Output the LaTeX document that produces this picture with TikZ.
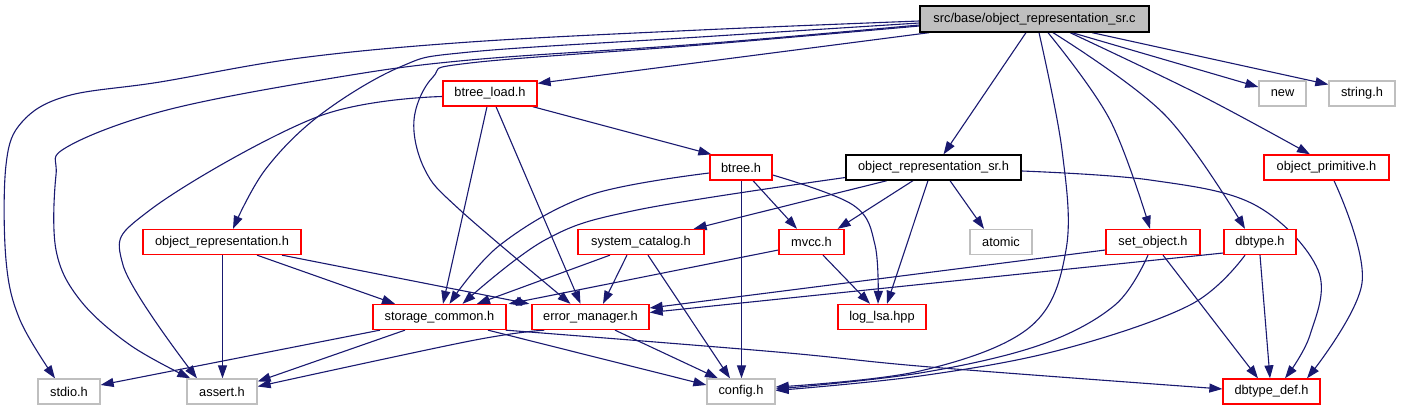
\documentclass[tikz,border=0pt]{standalone}
\usepackage{fontspec}
\setmainfont{Liberation Sans}
\usetikzlibrary{arrows.meta}
\definecolor{edgecol}{RGB}{25,25,112}
\definecolor{greyb}{RGB}{191,191,191}
\definecolor{redb}{RGB}{255,0,0}
\pgfdeclarelayer{bg}
\pgfsetlayers{bg,main}
\begin{document}
\begin{tikzpicture}[x=1pt,y=-1pt,
  box/.style={draw, line width=1.3pt, minimum height=25pt, inner sep=0pt, font=\fontsize{12.8}{15}\selectfont, fill=white},
  redbox/.style={box, draw=redb},
  greybox/.style={box, draw=greyb},
  blackbox/.style={box, draw=black},
  edge/.style={draw=edgecol, line width=1.1pt, -{Triangle[length=13pt,width=9pt]}},
  sm/.style={smooth, tension=0.6}]
\useasboundingbox (0,0) rectangle (1401,411);

% nodes
\node[blackbox, fill=greyb, minimum width=229pt, minimum height=26pt] (root) at (1034.5,19) {src/base/object\_representation\_sr.c};
\node[redbox, minimum width=94pt] (btreeload) at (490,93.5) {btree\_load.h};
\node[greybox, minimum width=47pt] (new) at (1282.5,93.5) {new};
\node[greybox, minimum width=66pt] (string) at (1362,93.5) {string.h};
\node[redbox, minimum width=62pt] (btree) at (741,167.5) {btree.h};
\node[blackbox, minimum width=175pt] (ors) at (933.5,167.5) {object\_representation\_sr.h};
\node[redbox, minimum width=125pt] (objprim) at (1326.5,167.5) {object\_primitive.h};
\node[redbox, minimum width=158pt] (objrep) at (222,242) {object\_representation.h};
\node[redbox, minimum width=126pt] (syscat) at (641,242) {system\_catalog.h};
\node[redbox, minimum width=65pt] (mvcc) at (811.5,242) {mvcc.h};
\node[greybox, minimum width=62pt] (atomic) at (1001,242) {atomic};
\node[redbox, minimum width=94pt] (setobj) at (1153,242) {set\_object.h};
\node[redbox, minimum width=72pt] (dbtype) at (1260,242) {dbtype.h};
\node[redbox, minimum width=133pt] (storage) at (439.5,317) {storage\_common.h};
\node[redbox, minimum width=117pt] (errmgr) at (590.5,317) {error\_manager.h};
\node[redbox, minimum width=88pt] (loglsa) at (882,317) {log\_lsa.hpp};
\node[greybox, minimum width=62pt] (stdio) at (69,391.5) {stdio.h};
\node[greybox, minimum width=70pt] (assert) at (222,391.5) {assert.h};
\node[greybox, minimum width=68pt] (config) at (741,391.5) {config.h};
\node[redbox, minimum width=97pt] (dbtypedef) at (1271.5,391.5) {dbtype\_def.h};

\begin{pgfonlayer}{bg}
% root edges
\draw[edge] plot[sm] coordinates {([yshift=-2pt]root.west) (700,30) (470,42) (300,58) (160,82) (67,96) (22,122) (6,165) (6,260) (20,320) ([xshift=-14pt]stdio.north)};
\draw[edge] plot[sm] coordinates {([yshift=-4pt]root.west) (700,37) (470,52) (400,67) (320,115) (265,170) ([xshift=11pt]objrep.north)};
\draw[edge] plot[sm] coordinates {([yshift=-6pt]root.west) (700,44) (470,60) (333,78) (167,110) (67,147) (56,175) (56,250) (80,300) (130,345) ([xshift=4pt]assert.north west)};
\draw[edge] plot[sm] coordinates {([yshift=-7pt]root.west) (700,45) (470,63) (433,77) (414,120) (425,170) (460,210) ([xshift=-20pt]errmgr.north)};
\draw[edge] ([xshift=10pt]root.south west) -- ([yshift=-3pt]btreeload.north east);
\draw[edge] ([xshift=-8.5pt]root.south) -- ([xshift=10pt]ors.north);
\draw[edge] plot[sm] coordinates {([xshift=4.5pt]root.south) (1062,150) (1066,250) (1030,327) (920,371) ([yshift=4.5pt]config.east)};
\draw[edge] plot[sm] coordinates {([xshift=13.5pt]root.south) (1110,120) ([xshift=-3pt]setobj.north)};
\draw[edge] plot[sm] coordinates {([xshift=18.5pt]root.south) (1165,115) ([xshift=-15pt]dbtype.north)};
\draw[edge] plot[sm] coordinates {([xshift=35.5pt]root.south) (1200,95) ([xshift=-16.5pt]objprim.north)};
\draw[edge] ([xshift=37.5pt]root.south) -- ([yshift=6.5pt]new.west);
\draw[edge] ([xshift=57.5pt]root.south) -- ([yshift=9pt]string.west);
% btree_load
\draw[edge] plot[sm] coordinates {([yshift=-3pt]btreeload.west) (317,117) (150,210) (123,265) ([xshift=-25pt]assert.north)};
\draw[edge] ([xshift=-3pt]btreeload.south) -- ([xshift=3.5pt]storage.north);
\draw[edge] ([xshift=6pt]btreeload.south) -- ([xshift=-10pt]errmgr.north);
\draw[edge] ([xshift=-5pt]btreeload.south east) -- ([xshift=2pt]btree.north west);
% btree
\draw[edge] plot[sm] coordinates {([yshift=-5.5pt]btree.west) (590,195) (500,245) ([xshift=10pt]storage.north)};
\draw[edge] ([xshift=0.5pt]btree.south) -- ([xshift=0.5pt]config.north);
\draw[edge] ([xshift=12pt]btree.south) -- ([xshift=-14.5pt]mvcc.north);
\draw[edge] plot[sm] coordinates {([yshift=-7.5pt]btree.east) (853,205) (875,245) ([xshift=-4pt]loglsa.north)};
% object_representation_sr.h
\draw[edge] plot[sm] coordinates {([yshift=-10pt]ors.west) (637,210) (545,240) ([xshift=23pt]storage.north)};
\draw[edge] ([xshift=-46.5pt]ors.south) -- ([xshift=-11pt]syscat.north east);
\draw[edge] ([xshift=-20.5pt]ors.south) -- ([xshift=-7pt]mvcc.north east);
\draw[edge] ([xshift=-5.5pt]ors.south) -- ([xshift=5pt]loglsa.north);
\draw[edge] ([xshift=16.5pt]ors.south) -- ([xshift=-17pt]atomic.north);
\draw[edge] plot[sm] coordinates {([yshift=-3.5pt]ors.east) (1150,180) (1255,205) (1318,270) (1310,335) ([xshift=13.5pt]dbtypedef.north)};
% object_primitive.h
\draw[edge] plot[sm] coordinates {([xshift=7.5pt]objprim.south) (1362,283) ([xshift=35.5pt]dbtypedef.north)};
% object_representation.h
\draw[edge] ([xshift=0.5pt]objrep.south) -- ([xshift=0.5pt]assert.north);
\draw[edge] ([xshift=35pt]objrep.south) -- ([xshift=-44.5pt]storage.north);
\draw[edge] ([xshift=60pt]objrep.south) -- ([xshift=-2pt]errmgr.north west);
% system_catalog.h
\draw[edge] ([xshift=-31pt]syscat.south) -- ([xshift=37.5pt]storage.north);
\draw[edge] ([xshift=-14pt]syscat.south) -- ([xshift=12.5pt]errmgr.north);
\draw[edge] ([xshift=7pt]syscat.south) -- ([xshift=-11pt]config.north);
% mvcc.h
\draw[edge] ([yshift=-8pt]mvcc.west) -- ([xshift=2pt]storage.north east);
\draw[edge] ([xshift=11.5pt]mvcc.south) -- ([xshift=-12pt]loglsa.north);
% set_object.h
\draw[edge] ([yshift=-8pt]setobj.west) -- ([yshift=9pt]errmgr.east);
\draw[edge] plot[sm] coordinates {([xshift=-5pt]setobj.south) (1115,305) (1040,345) (920,373) ([yshift=2.5pt]config.east)};
\draw[edge] ([xshift=10pt]setobj.south) -- ([xshift=-13.5pt]dbtypedef.north);
% dbtype.h
\draw[edge] ([yshift=-11pt]dbtype.west) -- ([yshift=4.5pt]errmgr.east);
\draw[edge] plot[sm] coordinates {([xshift=-15pt]dbtype.south) (1190,305) (1060,350) (920,376) ([yshift=1pt]config.east)};
\draw[edge] (dbtype.south) -- ([xshift=-1.5pt]dbtypedef.north);
% storage_common.h
\draw[edge] ([xshift=-59.5pt]storage.south) -- ([yshift=6.5pt]stdio.east);
\draw[edge] ([xshift=-34.5pt]storage.south) -- ([yshift=10pt]assert.east);
\draw[edge] ([xshift=48.5pt]storage.south) -- ([yshift=6.5pt]config.west);
\draw[edge] plot[sm] coordinates {([xshift=-1pt]storage.south east) (777,352) (930,367) ([yshift=2.5pt]dbtypedef.west)};
% error_manager.h
\draw[edge] plot[sm] coordinates {([xshift=13pt]errmgr.south west) (470,341) ([yshift=5pt]assert.east)};
\draw[edge] ([xshift=24.5pt]errmgr.south) -- ([xshift=-23pt]config.north);
\end{pgfonlayer}
\end{tikzpicture}
\end{document}
